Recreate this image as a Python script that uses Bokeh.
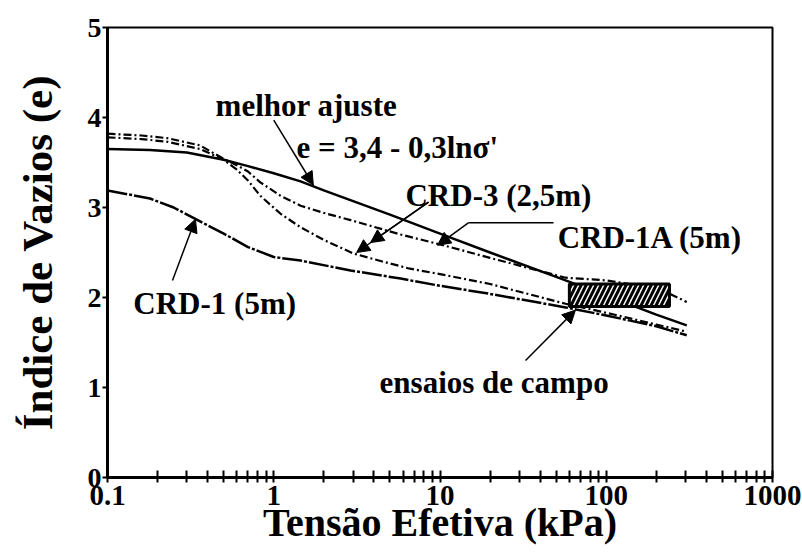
from bokeh.plotting import figure
from bokeh.models import Range1d, FixedTicker, Label, Arrow, NormalHead
from bokeh.embed import file_html
from bokeh.resources import INLINE

# --- data: effective stress (kPa) vs void ratio ---
sigma_fit = [0.1, 0.18, 0.3, 0.5, 0.7, 1.0, 1.45, 2.0, 5.0, 10, 20, 50, 100, 200, 305]
e_fit = [3.65, 3.64, 3.61, 3.53, 3.46, 3.38, 3.29, 3.19, 2.92, 2.71, 2.50, 2.23, 2.02, 1.81, 1.69]

sigma_crd1a = [0.1, 0.16, 0.23, 0.36, 0.5, 0.6, 0.7, 0.83, 1.1, 1.45, 2.0, 2.9, 5.8, 10, 20, 57, 100, 150, 236, 305]
e_crd1a = [3.82, 3.80, 3.77, 3.69, 3.54, 3.47, 3.40, 3.28, 3.13, 3.02, 2.94, 2.86, 2.70, 2.59, 2.44, 2.22, 2.19, 2.14, 2.05, 1.95]

sigma_crd3 = [0.1, 0.16, 0.23, 0.36, 0.5, 0.6, 0.7, 0.83, 1.1, 1.45, 2.0, 3.0, 4.5, 6.6, 10, 20, 57, 100, 200, 305]
e_crd3 = [3.78, 3.76, 3.73, 3.65, 3.53, 3.42, 3.30, 3.13, 2.93, 2.78, 2.64, 2.49, 2.40, 2.32, 2.26, 2.15, 1.93, 1.83, 1.70, 1.62]

sigma_crd1 = [0.1, 0.18, 0.25, 0.34, 0.5, 0.7, 1.0, 1.45, 2.9, 5.8, 10, 20, 57, 100, 200, 305]
e_crd1 = [3.19, 3.10, 3.00, 2.87, 2.71, 2.56, 2.45, 2.41, 2.30, 2.21, 2.13, 2.04, 1.89, 1.80, 1.68, 1.58]

# field test range (ensaios de campo)
campo_sigma = [60, 240]
campo_e = [1.90, 2.15]

x_ticks = [0.1, 1, 10, 100, 1000]
x_tick_labels = ["0.1", "1", "10", "100", "1000"]
y_ticks = [0, 1, 2, 3, 4, 5]

SERIF = "Liberation Serif"

p = figure(width=802, height=557, x_axis_type="log",
           x_range=Range1d(0.1, 1000), y_range=Range1d(0, 5),
           output_backend="svg", toolbar_location=None,
           min_border_left=107, min_border_right=30,
           min_border_top=27, min_border_bottom=80)
p.grid.visible = False
p.background_fill_color = "white"
p.border_fill_color = "white"
p.outline_line_color = "black"
p.outline_line_width = 2

# curves
p.line(sigma_fit, e_fit, line_color="black", line_width=2.5)
p.line(sigma_crd1a, e_crd1a, line_color="black", line_width=2.2, line_dash="8 3 2 3")
p.line(sigma_crd3, e_crd3, line_color="black", line_width=2.2, line_dash="8 3 2 3")
p.line(sigma_crd1, e_crd1, line_color="black", line_width=2.5, line_dash="20 2 3 2")

# hatched field-test box
p.quad(left=[campo_sigma[0]], right=[campo_sigma[1]], bottom=[campo_e[0]], top=[campo_e[1]],
       fill_color="white", hatch_pattern="/", hatch_color="black", hatch_scale=10,
       hatch_weight=3, line_color="black", line_width=3)

# axes
xa = p.xaxis[0]
xa.ticker = FixedTicker(ticks=x_ticks,
                        minor_ticks=[m * d for d in [0.1, 1, 10, 100] for m in range(2, 10)])
xa.major_label_overrides = {t: l for t, l in zip(x_ticks, x_tick_labels)}
ya = p.yaxis[0]
ya.ticker = FixedTicker(ticks=y_ticks, minor_ticks=[])

for ax in (xa, ya):
    ax.axis_line_width = 3
    ax.axis_line_color = "black"
    ax.major_tick_line_color = "black"
    ax.major_tick_line_width = 2
    ax.minor_tick_line_color = "black"
    ax.minor_tick_line_width = 2
    ax.major_label_text_font = SERIF
    ax.major_label_text_font_style = "bold"
    ax.major_label_text_color = "black"
    ax.axis_label_text_font = SERIF
    ax.axis_label_text_font_style = "bold"
    ax.axis_label_text_color = "black"

xa.major_tick_in = 7
xa.major_tick_out = 5
xa.minor_tick_in = 7
xa.minor_tick_out = 5
xa.major_label_text_font_size = "29px"
xa.major_label_standoff = 3
xa.axis_label = "Tensão Efetiva (kPa)"
xa.axis_label_text_font_size = "40px"
xa.axis_label_standoff = -8

ya.major_tick_in = 0
ya.major_tick_out = 5
ya.minor_tick_in = 0
ya.minor_tick_out = 0
ya.major_label_text_font_size = "28px"
ya.major_label_standoff = 1
ya.axis_label = "Índice de Vazios (e)"
ya.axis_label_text_font_size = "43px"
ya.axis_label_standoff = 24

# curve annotations
notes = [
    ("melhor ajuste", 0.447, 4.13),
    ("e = 3,4 - 0,3lnσ'", 1.37, 3.67),
    ("CRD-3 (2,5m)", 6.2, 3.13),
    ("CRD-1A (5m)", 51, 2.67),
    ("CRD-1 (5m)", 0.143, 1.93),
    ("ensaios de campo", 4.33, 1.06),
]
for txt, xx, yy in notes:
    p.add_layout(Label(x=xx, y=yy, text=txt, text_font=SERIF, text_font_style="bold",
                       text_font_size="31px", text_align="left",
                       text_baseline="alphabetic", text_color="black"))


def arrow(x0, y0, x1, y1, head=True):
    end = NormalHead(size=13, fill_color="black", line_color="black", line_width=1) if head else None
    p.add_layout(Arrow(end=end, x_start=x0, y_start=y0, x_end=x1, y_end=y1,
                       line_color="black", line_width=1.5))


arrow(1.0, 3.97, 1.73, 3.25)          # melhor ajuste
arrow(8.53, 3.06, 3.82, 2.61)         # CRD-3
arrow(8.53, 3.06, 3.15, 2.50)         # CRD-3
arrow(48.2, 2.83, 14.8, 2.83, head=False)  # CRD-1A leader
arrow(14.8, 2.83, 9.66, 2.58)         # CRD-1A
arrow(0.246, 2.19, 0.338, 2.87)       # CRD-1
arrow(32.7, 1.30, 65.3, 1.86)         # ensaios de campo

open("out.html", "w").write(file_html(p, INLINE))
